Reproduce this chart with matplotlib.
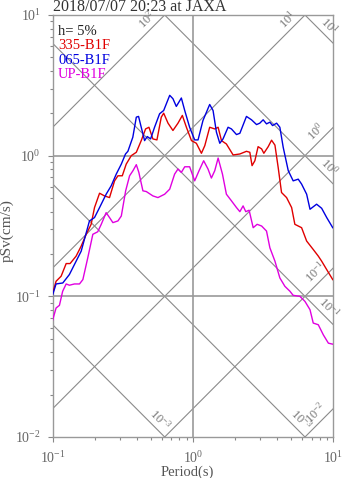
# tripartite response spectrum (pSv), h=5%
# curves as log10(period) / log10(pSv)

import matplotlib as mpl
mpl.use('Agg')
import numpy as np
import matplotlib.pyplot as plt

plt.rcParams['font.family'] = ['Liberation Serif', 'DejaVu Serif']
plt.rcParams['mathtext.default'] = 'regular'
plt.rcParams['axes.unicode_minus'] = False

title = "2018/07/07 20:23 at JAXA"
damping = "h= 5%"
names = ["335-B1F", "065-B1F", "UP-B1F"]
colors = ["#e00000", "#0000e0", "#e000e0"]

# 335-B1F
logT_335 = [-1.0, -0.976, -0.94, -0.904, -0.876, -0.833, -0.797, -0.761, -0.726, -0.702,
            -0.666, -0.631, -0.595, -0.559, -0.535, -0.504, -0.476, -0.44, -0.404, -0.369,
            -0.338, -0.314, -0.286, -0.257, -0.226, -0.209, -0.178, -0.143, -0.107, -0.076,
            -0.047, -0.011, 0.024, 0.06, 0.084, 0.119, 0.155, 0.179, 0.203, 0.238,
            0.286, 0.334, 0.381, 0.405, 0.421, 0.441, 0.464, 0.489, 0.505, 0.536,
            0.56, 0.584, 0.607, 0.631, 0.667, 0.703, 0.726, 0.774, 0.81, 0.857,
            0.893, 0.917, 0.953, 0.996]
logSv_335 = [-0.976, -0.893, -0.857, -0.767, -0.767, -0.714, -0.643, -0.559, -0.488, -0.369,
             -0.267, -0.286, -0.298, -0.179, -0.143, -0.143, -0.06, 0.0, 0.024, 0.107,
             0.19, 0.202, 0.119, 0.112, 0.274, 0.302, 0.231, 0.179, 0.231, 0.286,
             0.202, 0.107, 0.088, 0.017, 0.071, 0.202, 0.19, 0.202, 0.107, 0.083,
             0.005, 0.012, 0.031, 0.024, -0.071, -0.036, 0.064, 0.048, 0.017, 0.064,
             0.11, 0.075, -0.083, -0.262, -0.298, -0.369, -0.488, -0.512, -0.607, -0.667,
             -0.714, -0.75, -0.81, -0.881]

# 065-B1F
logT_065 = [-1.0, -0.976, -0.928, -0.881, -0.833, -0.797, -0.738, -0.702, -0.666, -0.619,
            -0.583, -0.547, -0.511, -0.481, -0.464, -0.429, -0.404, -0.388, -0.369, -0.345,
            -0.326, -0.302, -0.274, -0.238, -0.209, -0.166, -0.143, -0.119, -0.083, -0.059,
            -0.024, 0.012, 0.036, 0.071, 0.119, 0.143, 0.167, 0.191, 0.214, 0.25,
            0.274, 0.31, 0.334, 0.381, 0.417, 0.453, 0.476, 0.5, 0.524, 0.548,
            0.567, 0.596, 0.619, 0.643, 0.679, 0.714, 0.75, 0.774, 0.81, 0.834,
            0.881, 0.917, 0.953, 0.996]
logSv_065 = [-0.988, -0.912, -0.905, -0.845, -0.75, -0.679, -0.464, -0.44, -0.369, -0.274,
             -0.214, -0.131, -0.06, 0.012, 0.031, 0.131, 0.274, 0.279, 0.202, 0.107,
             0.136, 0.119, 0.202, 0.298, 0.321, 0.429, 0.405, 0.35, 0.41, 0.321,
             0.202, 0.112, 0.112, 0.25, 0.364, 0.321, 0.167, 0.088, 0.119, 0.202,
             0.19, 0.15, 0.159, 0.279, 0.255, 0.221, 0.231, 0.255, 0.226, 0.238,
             0.214, 0.231, 0.202, 0.059, -0.107, -0.179, -0.167, -0.202, -0.274, -0.381,
             -0.345, -0.374, -0.44, -0.512]

# UP-B1F
logT_up = [-1.0, -0.976, -0.952, -0.929, -0.904, -0.881, -0.845, -0.809, -0.785, -0.75,
           -0.714, -0.679, -0.654, -0.619, -0.595, -0.571, -0.535, -0.511, -0.48, -0.452,
           -0.428, -0.404, -0.386, -0.357, -0.333, -0.286, -0.25, -0.202, -0.166, -0.131,
           -0.107, -0.083, -0.059, -0.024, 0.012, 0.043, 0.076, 0.107, 0.131, 0.155,
           0.179, 0.21, 0.238, 0.274, 0.31, 0.334, 0.357, 0.376, 0.4, 0.429,
           0.457, 0.489, 0.524, 0.548, 0.584, 0.619, 0.655, 0.691, 0.714, 0.762,
           0.798, 0.834, 0.857, 0.893, 0.929, 0.965, 0.996]
logSv_up = [-1.167, -1.083, -1.064, -0.964, -0.912, -0.921, -0.912, -0.912, -0.881, -0.726,
            -0.559, -0.541, -0.488, -0.405, -0.44, -0.476, -0.464, -0.429, -0.25, -0.143,
            -0.107, -0.064, -0.119, -0.25, -0.255, -0.286, -0.298, -0.274, -0.238, -0.131,
            -0.095, -0.119, -0.079, -0.079, -0.179, -0.107, -0.036, -0.095, -0.159, -0.107,
            -0.017, -0.131, -0.274, -0.321, -0.369, -0.398, -0.357, -0.398, -0.388, -0.512,
            -0.488, -0.5, -0.536, -0.655, -0.75, -0.869, -0.929, -0.964, -0.993, -1.0,
            -1.036, -1.095, -1.19, -1.202, -1.274, -1.333, -1.34]

# diagonal grid: displacement (cm) and acceleration (cm/s2) exponents
disp_exp = [1, 0, -1, -2, -3]
disp_lab = ["1", "0", "-1", "-3", "-3"]
acc_exp = [2, 1, 0, -1, -2]

xmin, xmax, ymin, ymax = 0.1, 10.0, 0.01, 10.0
gray = "#8a8a8a"

fig = plt.figure(figsize=(3.47, 4.78), dpi=100)
ax = fig.add_axes([52.7/347, 41/478, 280.6/347, 422/478])
ax.set_xscale('log')
ax.set_yscale('log')
ax.set_xlim(xmin, xmax)
ax.set_ylim(ymin, ymax)

T = np.logspace(-1, 1, 200)
w = 2*np.pi/T
lt2pi = np.log10(2*np.pi)
s = 0.078   # label distance from the line end, decades

for e, lab in zip(disp_exp, disp_lab):
    ax.plot(T, w*10.0**e, color=gray, lw=0.8, zorder=1)
    # lower right end of the line
    ly = e + lt2pi - 1
    lx = 1.0
    if ly < -2:
        ly = -2
        lx = e + lt2pi + 2
    ax.annotate(r'$\mathdefault{10^{%s}}$' % lab, (10**(lx - s), 10**(ly + s)),
                xytext=(1, 1), textcoords='offset points', rotation=-45,
                rotation_mode='anchor', ha='center', va='bottom',
                fontsize=9, color='#777777', annotation_clip=False)

for e in acc_exp:
    ax.plot(T, 10.0**e/w, color=gray, lw=0.8, zorder=1)
    # upper right end of the line
    ly = e + 1 - lt2pi
    lx = 1.0
    if ly > 1:
        ly = 1
        lx = 1 - e + lt2pi
    ax.annotate(r'$\mathdefault{10^{%d}}$' % e, (10**(lx - s), 10**(ly - s)),
                xytext=(-1, 1), textcoords='offset points', rotation=45,
                rotation_mode='anchor', ha='center', va='bottom',
                fontsize=9, color='#777777', annotation_clip=False)

ax.axvline(1.0, color='#999999', lw=1.2, zorder=1)
ax.axhline(1.0, color='#999999', lw=1.2, zorder=1)
ax.axhline(0.1, color='#999999', lw=1.2, zorder=1)

curves = [(logT_335, logSv_335), (logT_065, logSv_065), (logT_up, logSv_up)]
for (lt, ls), c in zip(curves, colors):
    ax.plot(10**np.array(lt), 10**np.array(ls), color=c, lw=1.0, zorder=3)

# legend as plain text
ax.text(0.019, 0.953, damping, transform=ax.transAxes, fontsize=10.5, color='#222222')
ypos = [0.919, 0.883, 0.851]
for n, c, y in zip(names, colors, ypos):
    ax.text(0.019, y, n, transform=ax.transAxes, fontsize=10.5, color=c)

for sp in ax.spines.values():
    sp.set_color('#999999')
    sp.set_linewidth(1.0)
ax.tick_params(which='both', direction='out', colors='#888888', labelcolor='#666666',
               top=False, right=False)
ax.tick_params(which='major', length=3.5, width=0.8, labelsize=10, pad=5)
ax.tick_params(axis='x', which='major', pad=6)
ax.tick_params(which='minor', length=2.5, width=0.8)

ax.set_xlabel("Period(s)", fontsize=10.5, color='#555555')
ax.set_ylabel("pSv(cm/s)", fontsize=11, color='#555555')
ax.xaxis.set_label_coords(0.48, -0.068)
ax.yaxis.set_label_coords(-0.14, 0.49)

fig.text(53/347, 1 - 11/478, title, fontsize=11.5, color='#333333', ha='left', va='baseline')

plt.savefig('out.png', dpi=100)
